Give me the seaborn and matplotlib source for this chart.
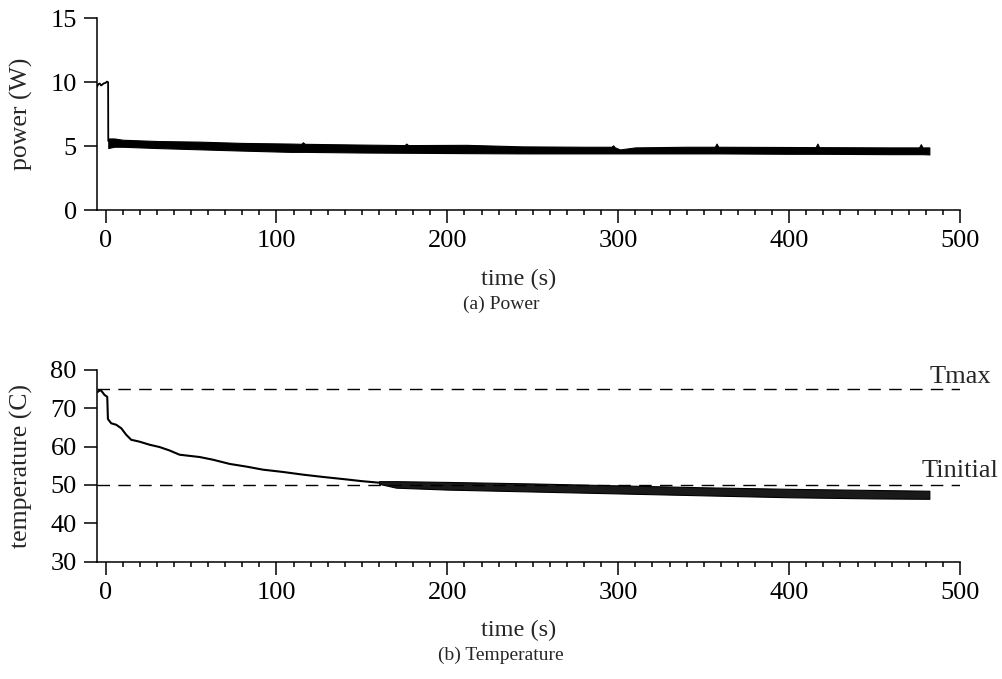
import seaborn as sns
import matplotlib.pyplot as plt
import pandas as pd
from matplotlib.ticker import MultipleLocator

# power trace: start-up part (thin line)
power_t = [-5, -4.2, -3.4, -2.6, -2.0, -1.2, 0.0, 0.8, 1.5, 1.6]
power_w = [9.65, 9.85, 9.9, 9.75, 9.8, 9.9, 9.95, 10.05, 10.0, 5.4]

# power trace: noisy part, read as lower/upper envelope
pband_t = [1.6, 5, 10, 30, 55, 80, 108, 114.5, 115.5, 116.5, 150, 175, 176, 177, 211,
           244, 280, 296, 297, 298, 301, 310, 340, 356.5, 357.5, 358.5, 400,
           415.5, 416.5, 417.5, 460, 476, 477, 478, 482]
pband_lo = [4.85, 4.95, 4.95, 4.85, 4.75, 4.65, 4.55, 4.55, 4.55, 4.55, 4.5, 4.48, 4.48, 4.48, 4.45,
            4.43, 4.43, 4.43, 4.43, 4.43, 4.43, 4.43, 4.43, 4.43, 4.43, 4.43, 4.4,
            4.4, 4.4, 4.4, 4.37, 4.37, 4.37, 4.37, 4.35]
pband_hi = [5.6, 5.6, 5.5, 5.4, 5.35, 5.25, 5.2, 5.18, 5.3, 5.18, 5.12, 5.08, 5.2, 5.08, 5.1,
            4.98, 4.95, 4.95, 5.06, 4.9, 4.74, 4.9, 4.95, 4.95, 5.2, 4.95, 4.93,
            4.92, 5.2, 4.92, 4.9, 4.9, 5.15, 4.9, 4.9]

# temperature trace: cooling part (line)
temp_t = [-4.5, -3.0, -2.0, -0.6, 1.0, 1.4, 3.3, 6.3, 9.2, 12.1, 15, 19.9, 25.8, 31.6,
          37.5, 43.3, 55, 62.8, 72.6, 82.4, 92.1, 103.8, 115.5, 127.2, 140, 150, 160]
temp_c = [74.3, 74.8, 74.3, 73.5, 73.0, 67.2, 66.1, 65.7, 64.8, 63.1, 61.8, 61.3, 60.5, 59.9,
          59.0, 57.9, 57.3, 56.6, 55.5, 54.8, 54.0, 53.4, 52.7, 52.1, 51.5, 51.0, 50.6]

# temperature trace: noisy part, lower/upper envelope
tband_t = [160, 170, 200, 250, 300, 350, 400, 450, 482]
tband_lo = [50.3, 49.3, 48.8, 48.3, 47.8, 47.3, 46.8, 46.5, 46.4]
tband_hi = [51.0, 51.0, 50.8, 50.4, 49.9, 49.4, 49.0, 48.7, 48.5]

t_max = 75
t_initial = 50

sns.set_style("ticks")
plt.rcParams['font.family'] = ['Liberation Serif', 'DejaVu Serif']

fig = plt.figure(figsize=(10.02, 6.79), dpi=100)
ax1 = fig.add_axes([0.0968, 0.6907, 0.8614, 0.2823])
ax2 = fig.add_axes([0.0968, 0.1728, 0.8614, 0.2823])

tick_fs = 19
label_fs = 17.5


def style_axis(ax, ylabel, caption):
    ax.set_xlim(-5, 500)
    ax.xaxis.set_major_locator(MultipleLocator(100))
    ax.xaxis.set_minor_locator(MultipleLocator(10))
    ax.tick_params(axis='both', which='major', direction='out', length=9.5, width=1.1,
                   labelsize=tick_fs, pad=5, color='black', labelcolor='black')
    ax.tick_params(axis='x', which='minor', direction='out', length=3.6, width=1.1, color='black')
    for s in ['left', 'bottom']:
        ax.spines[s].set_linewidth(1.1)
        ax.spines[s].set_color('black')
    sns.despine(ax=ax)
    ax.set_xlabel("time (s)", fontsize=label_fs)
    ax.xaxis.set_label_coords(0.488, -0.305)
    ax.set_ylabel(ylabel, fontsize=label_fs + 1)
    ax.yaxis.set_label_coords(-0.074, 0.5)
    ax.text(0.468, -0.49, caption, transform=ax.transAxes, ha='center', va='center', fontsize=14)


# (a) power
df_p = pd.DataFrame({"time": power_t, "power": power_w})
sns.lineplot(data=df_p, x="time", y="power", ax=ax1, color='black', lw=1.3, sort=False)
ax1.fill_between(pband_t, pband_lo, pband_hi, color='black', lw=0.8, edgecolor='black')
ax1.set_ylim(0, 15)
ax1.yaxis.set_major_locator(MultipleLocator(5))
style_axis(ax1, "power (W)", "(a) Power")

# (b) temperature
df_t = pd.DataFrame({"time": temp_t, "temp": temp_c})
sns.lineplot(data=df_t, x="time", y="temp", ax=ax2, color='black', lw=1.5, sort=False)
ax2.fill_between(tband_t, tband_lo, tband_hi, color='0.1', lw=0.8, edgecolor='black')
ax2.axhline(t_max, color='black', lw=1.0, ls=(0, (9, 6)))
ax2.axhline(t_initial, color='black', lw=1.0, ls=(0, (9, 6)))
ax2.text(482, 76.5, "Tmax", fontsize=19, ha='left', va='baseline', clip_on=False)
ax2.text(477.5, 52.1, "Tinitial", fontsize=19, ha='left', va='baseline', clip_on=False)
ax2.set_ylim(30, 80)
ax2.yaxis.set_major_locator(MultipleLocator(10))
style_axis(ax2, "temperature (C)", "(b) Temperature")

fig.savefig("out.png", dpi=100)
